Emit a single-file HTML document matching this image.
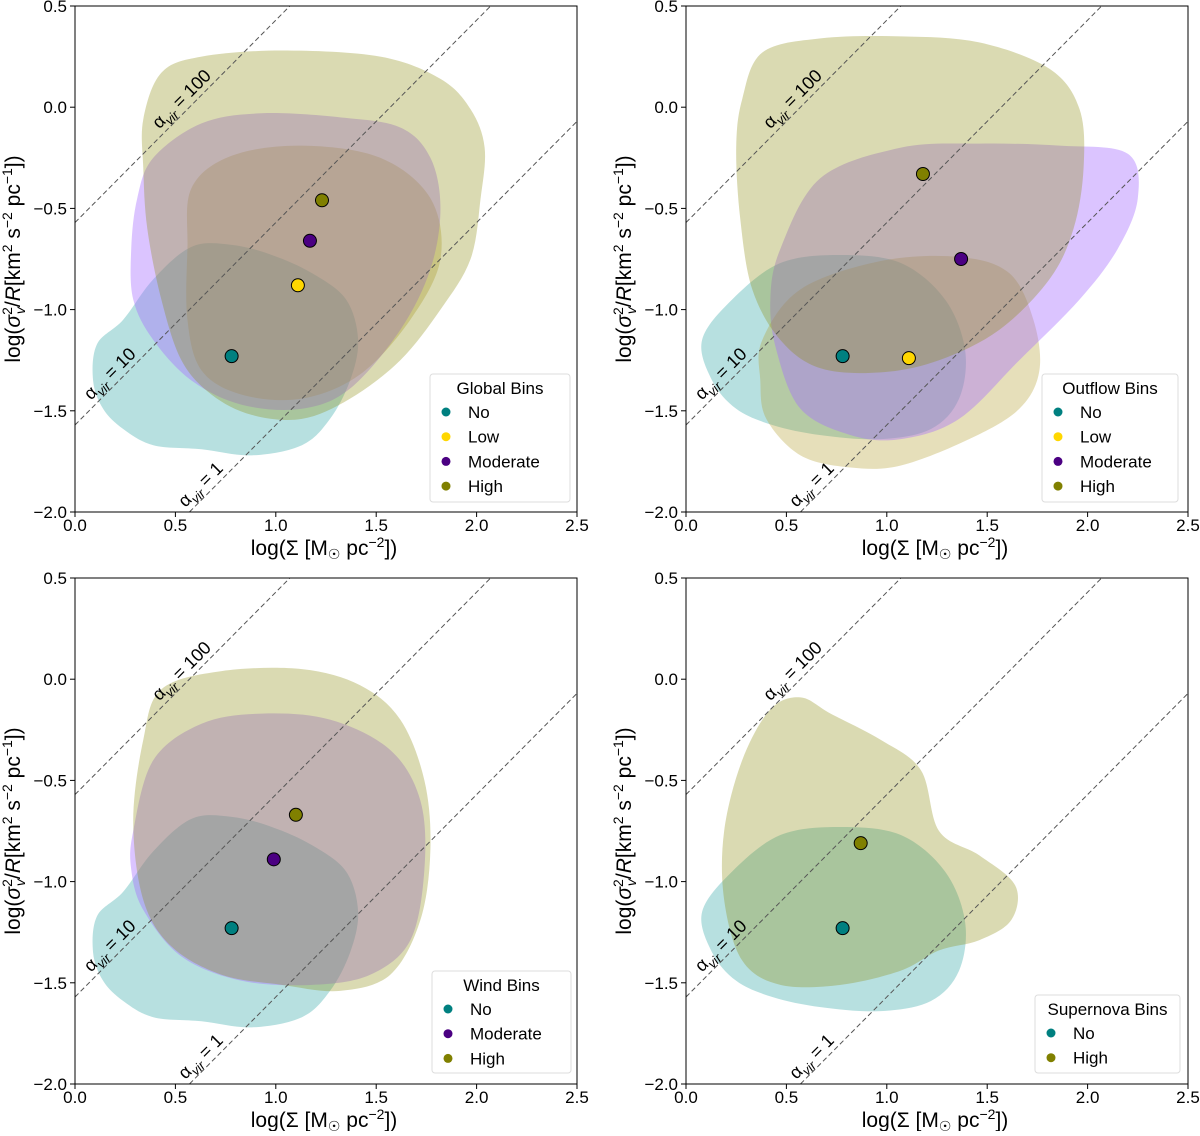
<!DOCTYPE html>
<html><head><meta charset="utf-8"><style>
body{margin:0;background:#fff}
svg text{font-family:"Liberation Sans","DejaVu Sans",sans-serif;fill:#000}
</style></head><body>
<svg id="fig" width="1200" height="1131" viewBox="0 0 1200 1131" xmlns="http://www.w3.org/2000/svg"></svg>
<script>
const xTicks=[0.0,0.5,1.0,1.5,2.0,2.5];
const yTicks=[0.5,0.0,-0.5,-1.0,-1.5,-2.0];
const alphaOffsets=[-0.57,-1.57,-2.57];
const alphaLabels=["100","10","1"];
const fillNo="#20a0a0", fillLow="#b09a28", fillMod="#a66bff", fillHigh="#8c8c10";
const ptNo="#008080", ptLow="#ffd700", ptMod="#4b0082", ptHigh="#808000";
// Top-left: Global
const tlNo=[[.11,-1.17],[.24,-1.05],[.39,-.85],[.58,-.69],[.78,-.68],[.98,-.73],[1.18,-.82],[1.35,-.95],[1.41,-1.15],[1.37,-1.35],[1.27,-1.54],[1.13,-1.67],[.88,-1.72],[.63,-1.69],[.39,-1.67],[.24,-1.59],[.14,-1.49],[.09,-1.35]];
const tlLow=[[.58,-.40],[.78,-.24],[1.13,-.19],[1.52,-.25],[1.77,-.45],[1.82,-.75],[1.67,-1.05],[1.42,-1.32],[1.13,-1.44],[.83,-1.42],[.63,-1.30],[.56,-1.05],[.56,-.70]];
const tlMod=[[.31,-.45],[.39,-.25],[.63,-.08],[.93,-.03],[1.32,-.05],[1.62,-.10],[1.77,-.25],[1.82,-.50],[1.77,-.80],[1.62,-1.10],[1.37,-1.39],[1.13,-1.49],[.83,-1.47],[.58,-1.35],[.39,-1.15],[.29,-.95],[.28,-.70]];
const tlHigh=[[.34,-.06],[.43,.17],[.63,.25],[1.03,.28],[1.52,.25],[1.82,.14],[1.97,-.01],[2.04,-.20],[2.02,-.45],[1.97,-.75],[1.82,-1.0],[1.62,-1.25],[1.37,-1.44],[1.13,-1.54],[.88,-1.52],[.68,-1.42],[.53,-1.25],[.43,-.95],[.36,-.60],[.34,-.30]];
const tlPts=[[0.78,-1.23],[1.11,-0.88],[1.17,-0.66],[1.23,-0.46]];
// Top-right: Outflow
const trNo=[[.08,-1.15],[.23,-.95],[.47,-.77],[.77,-.73],[1.07,-.77],[1.29,-.95],[1.39,-1.20],[1.36,-1.44],[1.22,-1.59],[.97,-1.64],[.67,-1.62],[.43,-1.57],[.25,-1.49],[.13,-1.35]];
const trLow=[[.38,-1.15],[.57,-.90],[.97,-.76],[1.36,-.74],[1.61,-.82],[1.73,-1.05],[1.76,-1.30],[1.66,-1.49],[1.41,-1.64],[1.07,-1.77],[.82,-1.78],[.57,-1.72],[.40,-1.54],[.37,-1.35]];
const trMod=[[.47,-.70],[.67,-.35],[1.07,-.20],[1.46,-.18],[1.86,-.19],[2.20,-.23],[2.25,-.45],[2.15,-.70],[1.96,-.95],[1.66,-1.25],[1.36,-1.54],[1.07,-1.64],[.82,-1.62],[.57,-1.49],[.45,-1.20],[.42,-.95]];
const trHigh=[[.28,.04],[.38,.27],[.67,.34],[1.07,.35],[1.46,.32],[1.81,.19],[1.96,-.01],[1.98,-.30],[1.93,-.60],[1.81,-.85],[1.56,-1.10],[1.26,-1.25],[.97,-1.31],[.67,-1.29],[.47,-1.15],[.33,-.90],[.27,-.55],[.25,-.20]];
const trPts=[[0.78,-1.23],[1.11,-1.24],[1.37,-0.75],[1.18,-0.33]];
// Bottom-left: Wind
const blNo=tlNo;
const blMod=[[.29,-.75],[.39,-.40],[.63,-.22],[.93,-.17],[1.27,-.20],[1.57,-.35],[1.72,-.60],[1.74,-.94],[1.67,-1.29],[1.47,-1.46],[1.18,-1.51],[.83,-1.49],[.53,-1.37],[.34,-1.14],[.28,-.94]];
const blHigh=[[.34,-.30],[.43,-.05],[.73,.04],[1.13,.05],[1.42,-.03],[1.62,-.20],[1.74,-.50],[1.77,-.84],[1.72,-1.19],[1.57,-1.46],[1.32,-1.54],[1.03,-1.51],[.73,-1.46],[.48,-1.32],[.34,-1.09],[.29,-.70]];
const blPts=[[0.78,-1.23],[0.99,-0.89],[1.10,-0.67]];
// Bottom-right: Supernova
const brNo=trNo;
const brHigh=[[.19,-1.09],[.19,-.75],[.28,-.40],[.42,-.15],[.57,-.09],[.72,-.17],[.97,-.30],[1.17,-.45],[1.26,-.75],[1.46,-.87],[1.64,-1.02],[1.62,-1.19],[1.46,-1.29],[1.26,-1.34],[1.07,-1.44],[.77,-1.51],[.47,-1.51],[.28,-1.39]];
const brPts=[[0.78,-1.23],[0.87,-0.81]];

const NS="http://www.w3.org/2000/svg";
const fig=document.getElementById('fig');
function mk(tag,attrs,parent){const e=document.createElementNS(NS,tag);for(const k in attrs)e.setAttribute(k,attrs[k]);(parent||fig).appendChild(e);return e;}
function smooth(pts){const n=pts.length;let d=`M${pts[0][0]},${pts[0][1]}`;
 for(let i=0;i<n;i++){const p0=pts[(i-1+n)%n],p1=pts[i],p2=pts[(i+1)%n],p3=pts[(i+2)%n];
  const c1=[p1[0]+(p2[0]-p0[0])/6,p1[1]+(p2[1]-p0[1])/6],c2=[p2[0]-(p3[0]-p1[0])/6,p2[1]-(p3[1]-p1[1])/6];
  d+=`C${c1[0]},${c1[1]} ${c2[0]},${c2[1]} ${p2[0]},${p2[1]}`;}
 return d+'Z';}

function panel(ox,oy,key,blobs,pts,fills,cols,legendTitle,legendLabels,legBox){
 const L=ox,T=oy,W=502,H=506;
 const sx=v=>L+v/2.5*W, sy=v=>T+(0.5-v)/2.5*H;
 const g=mk('g',{});
 
 
 const cp=mk('clipPath',{id:'cp'+key},g);mk('rect',{x:L,y:T,width:W,height:H},cp);
 const pg=mk('g',{'clip-path':`url(#cp${key})`},g);
 blobs.forEach((b,i)=>{const p=mk('path',{d:smooth(b.map(q=>[sx(q[0]),sy(q[1])])),fill:fills[i],'fill-opacity':(fills[i]===fillMod?0.4:0.32)},pg);
  
  });
 alphaOffsets.forEach((c,i)=>{const x1=Math.max(0,-2-c),x2=Math.min(2.5,0.5-c);
  const l=mk('line',{x1:sx(x1),y1:sy(x1+c),x2:sx(x2),y2:sy(x2+c),stroke:'#555','stroke-width':1,'stroke-dasharray':'5,3'},pg);
  
  });
 const lab=[[0.42,-0.08,0.18],[0.08,-1.38,0.1],[0.55,-1.9,0.07]];
 lab.forEach((q,i)=>{const x=sx(q[0]),y=sy(q[0]+alphaOffsets[i])-8;
  const t=mk('text',{x:x,y:y,'font-size':18,transform:`rotate(-45 ${x} ${y})`},g);
  t.innerHTML=`α<tspan font-size="13" dy="5" font-style="italic">vir</tspan><tspan dy="-5"> = ${alphaLabels[i]}</tspan>`;
  
  });
 pts.forEach((p,i)=>{const c=mk('circle',{cx:sx(p[0]),cy:sy(p[1]),r:6.5,fill:cols[i],stroke:'#000','stroke-width':1},g);
  
  });
 mk('rect',{x:L,y:T,width:W,height:H,fill:'none',stroke:'#000','stroke-width':1},g);
 xTicks.forEach(v=>{mk('line',{x1:sx(v),x2:sx(v),y1:T+H,y2:T+H+5,stroke:'#000'},g);
  const t=mk('text',{x:sx(v),y:T+H+19,'font-size':17,'text-anchor':'middle'},g);t.textContent=v.toFixed(1);
  });
 yTicks.forEach(v=>{mk('line',{x1:L-5,x2:L,y1:sy(v),y2:sy(v),stroke:'#000'},g);
  const t=mk('text',{x:L-8,y:sy(v)+6,'font-size':17,'text-anchor':'end'},g);t.textContent=(v<0?'−':'')+Math.abs(v).toFixed(1);
  });
 const xl=mk('text',{x:L+W/2-2,y:T+H+43,'font-size':21,'text-anchor':'middle'},g);
 xl.innerHTML='log(Σ [M<tspan font-size="14" dy="4">☉</tspan><tspan dy="-4"> pc</tspan><tspan font-size="14" dy="-8">−2</tspan><tspan dy="8">])</tspan>';
 
 const yx=L-55,yy=T+H/2;
 const yl=mk('text',{x:yx,y:yy,'font-size':21,'text-anchor':'middle',transform:`rotate(-90 ${yx} ${yy})`},g);
 yl.innerHTML='log(<tspan font-style="italic">σ</tspan><tspan font-size="14" dy="-8">2</tspan><tspan font-size="14" dx="-7" dy="13" font-style="italic">v</tspan><tspan dy="-5">/</tspan><tspan font-style="italic">R</tspan>[km<tspan font-size="14" dy="-8">2</tspan><tspan dy="8"> s</tspan><tspan font-size="14" dy="-8">−2</tspan><tspan dy="8"> pc</tspan><tspan font-size="14" dy="-8">−1</tspan><tspan dy="8">])</tspan>';
 
 const lg=mk('g',{},g);
 
 mk('rect',{x:legBox[0],y:legBox[1],width:legBox[2],height:legBox[3],rx:3,fill:'#fff','fill-opacity':0.8,stroke:'#ddd'},lg);
 const tt=mk('text',{x:legBox[0]+legBox[2]/2,y:legBox[1]+20,'font-size':17,'text-anchor':'middle'},lg);tt.textContent=legendTitle;
 
 legendLabels.forEach((s,i)=>{const y=legBox[1]+44+i*24.7;
  mk('circle',{cx:legBox[0]+16,cy:y-6,r:4.5,fill:cols[i]},lg);
  const t=mk('text',{x:legBox[0]+38,y:y,'font-size':17},lg);t.textContent=s;
  });
}
panel(75,6,'global',[tlNo,tlLow,tlMod,tlHigh],tlPts,[fillNo,fillLow,fillMod,fillHigh],[ptNo,ptLow,ptMod,ptHigh],'Global Bins',['No','Low','Moderate','High'],[430,374,140,128]);
panel(686,6,'outflow',[trNo,trLow,trMod,trHigh],trPts,[fillNo,fillLow,fillMod,fillHigh],[ptNo,ptLow,ptMod,ptHigh],'Outflow Bins',['No','Low','Moderate','High'],[1042,374,136,128]);
panel(75,578,'wind',[blNo,blMod,blHigh],blPts,[fillNo,fillMod,fillHigh],[ptNo,ptMod,ptHigh],'Wind Bins',['No','Moderate','High'],[432,971,139,102]);
panel(686,578,'supernova',[brNo,brHigh],brPts,[fillNo,fillHigh],[ptNo,ptHigh],'Supernova Bins',['No','High'],[1035,995,145,78]);
</script>
</body></html>
